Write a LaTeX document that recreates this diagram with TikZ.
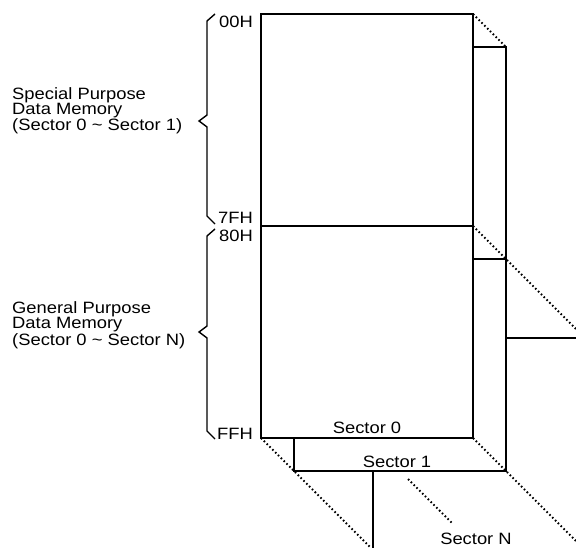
\documentclass[tikz,border=0pt]{standalone}
\usepackage{fontspec}
\setmainfont{Liberation Sans}[FakeStretch=1.12]
\begin{document}
\begin{tikzpicture}[x=1bp,y=-1bp,
  solidline/.style={line width=1.4bp,line cap=rect},
  dotline/.style={line width=1.8bp,dash pattern=on 1.6bp off 2.4bp},
  bracel/.style={line width=1.4bp,line join=miter},
  lbl/.style={inner sep=0pt,font=\fontsize{16.4bp}{14bp}\selectfont},
  side/.style={lbl,align=left,anchor=base west}]
\useasboundingbox (0,0) rectangle (576,548);
% corners of sector 0
\coordinate (a0) at (261,14);
\coordinate (b0) at (473,14);
\coordinate (c0) at (473,438);
\coordinate (d0) at (261,438);
\coordinate (m0l) at (261,226);
\coordinate (m0r) at (473,226);
% sector 1
\coordinate (b1) at (506,47);
\coordinate (c1) at (506,471);
\coordinate (d1) at (294,471);
\coordinate (m1r) at (506,259);
\coordinate (b1l) at (473,47);
\coordinate (m1l) at (473,259);
\coordinate (d1t) at (294,438);
% sector N
\coordinate (mNl) at (506,338);
\coordinate (mNr) at (576,338);
\coordinate (dNt) at (373,471);
\coordinate (dNb) at (373,548);
% dotted ends
\coordinate (e1) at (576,329);
\coordinate (e2) at (371,548);
\coordinate (e3) at (576,541);
\coordinate (e4a) at (408,479);
\coordinate (e4b) at (453,524);

\draw[solidline] (a0) rectangle (c0);
\draw[solidline] (m0l) -- (m0r);
\draw[solidline] (b1l) -- (b1) -- (c1) -- (d1) -- (d1t);
\draw[solidline] (m1l) -- (m1r);
\draw[solidline] (mNl) -- (mNr);
\draw[solidline] (dNt) -- (dNb);

\draw[dotline] (b0) -- (b1);
\draw[dotline] (m0r) -- (e1);
\draw[dotline] (d0) -- (e2);
\draw[dotline] (c0) -- (e3);
\draw[dotline] (e4a) -- (e4b);

% braces
\draw[bracel] (215,14) -- (207,21) -- (207,115) -- (199,121) -- (207,127) -- (207,216) -- (215,224);
\draw[bracel] (215,229) -- (207,236) -- (207,326) -- (199,332) -- (207,338) -- (207,431) -- (215,439);

% labels
\node[lbl,anchor=base east] (l00) at (253,28) {00H};
\node[lbl,anchor=base east] (l7f) at (253,224) {7FH};
\node[lbl,anchor=base east] (l80) at (253,241) {80H};
\node[lbl,anchor=base east] (lff) at (253,439) {FFH};
\node[lbl,anchor=base] (s0) at (367,433) {Sector 0};
\node[lbl,anchor=base] (s1) at (397,467) {Sector 1};
\node[lbl,anchor=base] (sN) at (476,544) {Sector N};
\node[side] (sp) at (12,131) {Special Purpose\\Data Memory\\(Sector 0 \textasciitilde{} Sector 1)};
\node[side] (gp) at (12,345) {General Purpose\\Data Memory\\(Sector 0 \textasciitilde{} Sector N)};
\end{tikzpicture}
\end{document}
